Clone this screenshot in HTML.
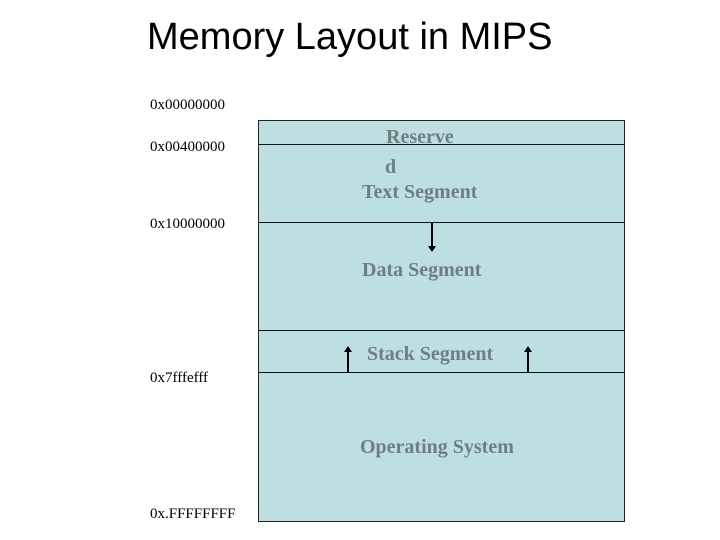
<!DOCTYPE html>
<html><head><style>
body{margin:0;width:720px;height:540px;background:#fff;position:relative;overflow:hidden;font-family:"Liberation Serif",serif}
.t{position:absolute;left:147px;top:16px;font:38px "Liberation Sans",sans-serif;color:#000}
.a{position:absolute;left:150px;font-size:15px;color:#000}
.s{position:absolute;font-size:20px;font-weight:bold;color:#6f7e80;white-space:nowrap}
</style></head><body>
<div class="t">Memory Layout in MIPS</div>
<svg width="720" height="540" style="position:absolute;left:0;top:0">
<rect x="258.5" y="120.5" width="366" height="401" fill="#bddfe2" stroke="#222" stroke-width="1"/>
<g stroke="#111" stroke-width="1">
<line x1="258" y1="144.5" x2="625" y2="144.5"/>
<line x1="258" y1="222.5" x2="625" y2="222.5"/>
<line x1="258" y1="330.5" x2="625" y2="330.5"/>
<line x1="258" y1="372.5" x2="625" y2="372.5"/>
</g>
<g stroke="#000" stroke-width="2" fill="#000">
<line x1="432" y1="223" x2="432" y2="246"/><polygon points="428,246 436,246 432,252" stroke="none"/>
<line x1="348" y1="372" x2="348" y2="352"/><polygon points="344,352 352,352 348,346" stroke="none"/>
<line x1="528" y1="372" x2="528" y2="352"/><polygon points="524,352 532,352 528,346" stroke="none"/>
</g>
</svg>
<div class="a" style="top:97px">0x00000000</div>
<div class="a" style="top:139px">0x00400000</div>
<div class="a" style="top:216px">0x10000000</div>
<div class="a" style="top:370px">0x7fffefff</div>
<div class="a" style="top:506px">0x.FFFFFFFF</div>
<div class="s" style="left:386px;top:126px">Reserve</div>
<div class="s" style="left:385px;top:156px">d</div>
<div class="s" style="left:362px;top:181px">Text Segment</div>
<div class="s" style="left:362px;top:259px">Data Segment</div>
<div class="s" style="left:367px;top:343px">Stack Segment</div>
<div class="s" style="left:360px;top:436px">Operating System</div>
</body></html>
